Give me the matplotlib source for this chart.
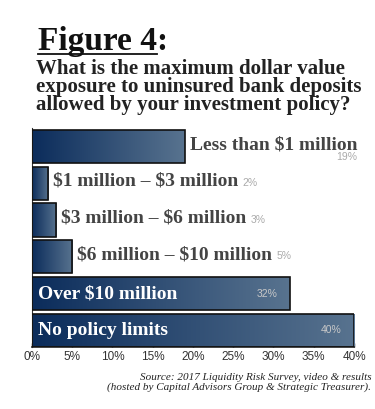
import numpy as np
import matplotlib
matplotlib.use("Agg")
import matplotlib.pyplot as plt
from matplotlib.colors import LinearSegmentedColormap
from matplotlib.lines import Line2D

plt.rcParams["text.parse_math"] = False

# survey answers, top to bottom
categories = ["Less than $1 million", "$1 million \u2013 $3 million",
              "$3 million \u2013 $6 million", "$6 million \u2013 $10 million",
              "Over $10 million", "No policy limits"]
values = [19, 2, 3, 5, 32, 40]
pct_labels = ["19%", "2%", "3%", "5%", "32%", "40%"]
inside = [False, False, False, False, True, True]
xticks = [0, 5, 10, 15, 20, 25, 30, 35, 40]

title = "Figure 4"
subtitle = ("What is the maximum dollar value\n"
            "exposure to uninsured bank deposits\n"
            "allowed by your investment policy?")
source = ("Source: 2017 Liquidity Risk Survey, video & results\n"
          "(hosted by Capital Advisors Group & Strategic Treasurer).")

serif = "Liberation Serif"
sans = "Liberation Sans"
grad = LinearSegmentedColormap.from_list("bar", ["#0b2c5b", "#58738f"])

fig = plt.figure(figsize=(3.75, 4.09), dpi=100)
ax = fig.add_axes([0.0853, 0.1516, 0.8587, 0.5355])

ypos = np.arange(len(values))[::-1]
bars = ax.barh(ypos, values, height=0.9, color="none", edgecolor="#111111",
               linewidth=1.2, zorder=3)
ramp = np.linspace(0, 1, 256).reshape(1, -1)
for b in bars:
    x0, y0 = b.get_x(), b.get_y()
    im = ax.imshow(ramp, cmap=grad, aspect="auto", zorder=2,
                   extent=[x0, x0 + b.get_width(), y0, y0 + b.get_height()])
    im.set_clip_path(b)

ax.set_xlim(0, 40)
ax.set_ylim(-0.45, 5.5)
ax.set_xticks(xticks)
ax.set_xticklabels([f"{t}%" for t in xticks], fontfamily=sans, fontsize=8.5,
                   color="#333333")
ax.set_yticks(ypos)
ax.set_yticklabels([])
ax.tick_params(axis="x", direction="in", length=3, width=1, color="#111111", pad=3)
ax.tick_params(axis="y", direction="in", length=3, width=0.6, color="#2a4a75")
for s in ["top", "right"]:
    ax.spines[s].set_visible(False)
ax.spines["left"].set_color("#333333")
ax.spines["bottom"].set_color("#222222")
ax.spines["bottom"].set_linewidth(1.2)

for i, (cat, v, p, ins) in enumerate(zip(categories, values, pct_labels, inside)):
    y = ypos[i]
    if ins:
        ax.text(0.7, y, cat, ha="left", va="center", fontfamily=serif,
                fontweight="bold", fontsize=14, color="white", zorder=4)
        ax.text(v - 1.5, y, p, ha="right", va="center", fontfamily=sans,
                fontsize=7.5, color="#c8c8c8", zorder=4)
    else:
        lab = ax.text(v + 0.6, y + 0.05, cat, ha="left", va="center",
                      fontfamily=serif, fontweight="bold", fontsize=14,
                      color="#444444", zorder=4)
        if i == 0:
            ax.annotate(p, xy=(1, 0), xycoords=lab, xytext=(0, 1),
                        textcoords="offset points", ha="right", va="top",
                        fontfamily=sans, fontsize=7.5, color="#aaaaaa")
        else:
            ax.annotate(p, xy=(1, 0.5), xycoords=lab, xytext=(3, -1),
                        textcoords="offset points", ha="left", va="center",
                        fontfamily=sans, fontsize=7.5, color="#aaaaaa")

t = fig.text(0.100, 0.878, title, fontfamily=serif, fontweight="bold",
             fontsize=24, color="#111111", va="baseline")
fig.canvas.draw()
bb = t.get_window_extent().transformed(fig.transFigure.inverted())
fig.text(bb.x1, 0.878, ":", fontfamily=serif, fontweight="bold",
         fontsize=24, color="#111111", va="baseline")
fig.add_artist(Line2D([bb.x0, bb.x1], [0.869, 0.869], transform=fig.transFigure,
                      color="#111111", linewidth=1.3))

# one block, tight leading like the original (baseline = last line)
fig.text(0.096, 0.731, subtitle, fontfamily=serif, fontweight="bold",
         fontsize=15, color="#222222", va="baseline", linespacing=0.86)

fig.text(0.99, 0.088, source, fontfamily=serif, fontstyle="italic",
         fontsize=8, color="#222222", ha="right", va="top", linespacing=1.05)

fig.savefig("out.png", dpi=100)
